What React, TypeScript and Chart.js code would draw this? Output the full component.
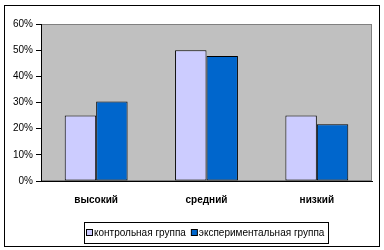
import React, { useEffect, useRef } from "react";
import { Chart, registerables } from "chart.js";

Chart.register(...registerables);

const categories = ["высокий", "средний", "низкий"];
const seriesNames = ["контрольная группа", "экспериментальная группа"];
const controlValues = [25, 50, 25];
const experimentalValues = [30.4, 47.8, 21.7];
const yTicks = [0, 10, 20, 30, 40, 50, 60];

const FONT = "Arial, 'Liberation Sans', sans-serif";

const framePlugin = {
  id: "framePlugin",
  beforeDraw(chart: any) {
    const { ctx, chartArea } = chart;
    ctx.save();
    ctx.fillStyle = "#ffffff";
    ctx.fillRect(0, 0, chart.width, chart.height);
    ctx.fillStyle = "#C0C0C0";
    ctx.fillRect(chartArea.left, chartArea.top, chartArea.right - chartArea.left, chartArea.bottom - chartArea.top);
    ctx.strokeStyle = "#808080";
    ctx.lineWidth = 1;
    ctx.strokeRect(
      Math.round(chartArea.left) + 0.5,
      Math.round(chartArea.top) + 0.5,
      Math.round(chartArea.right - chartArea.left) - 1,
      Math.round(chartArea.bottom - chartArea.top) - 1
    );
    ctx.restore();
  },
  afterDraw(chart: any) {
    const { ctx, chartArea } = chart;
    ctx.save();
    // outer frame
    ctx.strokeStyle = "#000000";
    ctx.lineWidth = 1;
    ctx.strokeRect(4.5, 5.5, 375, 241);

    // legend
    ctx.font = "10px " + FONT;
    ctx.textBaseline = "middle";
    const sq = 6;
    const items = chart.data.datasets.map((ds: any) => ({
      label: ds.label,
      color: ds.backgroundColor,
      w: ctx.measureText(ds.label).width,
    }));
    let total = 2;
    items.forEach((it: any, i: number) => {
      total += sq + 2 + it.w + (i < items.length - 1 ? 5 : 4);
    });
    const cx = (chartArea.left + chartArea.right) / 2;
    const boxLeft = Math.round(cx - total / 2);
    const boxTop = 222;
    const boxH = 21;
    ctx.strokeRect(boxLeft + 0.5, boxTop + 0.5, Math.round(total), boxH);
    let x = boxLeft + 2;
    const cy = boxTop + 10.5;
    items.forEach((it: any) => {
      ctx.fillStyle = it.color;
      ctx.fillRect(x + 0.5, cy - 3, sq, sq);
      ctx.strokeStyle = "#000000";
      ctx.strokeRect(x + 0.5, cy - 3, sq, sq);
      x += sq + 2;
      ctx.fillStyle = "#000000";
      ctx.textAlign = "left";
      ctx.fillText(it.label, x, cy + 0.5);
      x += it.w + 5;
    });
    ctx.restore();
  },
};

export default function App() {
  const ref = useRef<HTMLCanvasElement | null>(null);

  useEffect(() => {
    if (!ref.current) return;
    const chart = new Chart(ref.current, {
      type: "bar",
      data: {
        labels: categories,
        datasets: [
          {
            label: seriesNames[0],
            data: controlValues,
            backgroundColor: "#CCCCFF",
            borderColor: "#000000",
            borderWidth: 1,
            borderSkipped: false,
          },
          {
            label: seriesNames[1],
            data: experimentalValues,
            backgroundColor: "#0066CC",
            borderColor: "#000000",
            borderWidth: 1,
            borderSkipped: false,
          },
        ],
      },
      options: {
        responsive: false,
        animation: false,
        devicePixelRatio: 1,
        categoryPercentage: 0.57,
        barPercentage: 1,
        layout: { padding: { left: 0, top: 24, right: 12, bottom: 39 } },
        plugins: {
          legend: { display: false },
          tooltip: { enabled: false },
        },
        scales: {
          x: {
            grid: { display: false, drawTicks: false },
            border: { display: true, color: "#000000", width: 1 },
            ticks: {
              color: "#000000",
              font: { family: FONT, size: 10, weight: "bold" },
              padding: 13,
              maxRotation: 0,
            },
            afterFit: (scale: any) => {
              scale.height = 30;
            },
          },
          y: {
            min: 0,
            max: 60,
            afterBuildTicks: (scale: any) => {
              scale.ticks = yTicks.map((v) => ({ value: v }));
            },
            grid: {
              drawOnChartArea: false,
              drawTicks: true,
              tickLength: 5,
              color: "#000000",
            },
            border: { display: true, color: "#000000", width: 1 },
            ticks: {
              color: "#000000",
              font: { family: FONT, size: 10 },
              padding: 3,
              callback: (v: any) => v + "%",
            },
            afterFit: (scale: any) => {
              scale.width = 41;
            },
          },
        },
      } as any,
      plugins: [framePlugin],
    });
    return () => chart.destroy();
  }, []);

  return (
    <div style={{ position: "absolute", left: 0, top: 0, width: 384, height: 250 }}>
      <canvas ref={ref} width={384} height={250} style={{ width: 384, height: 250 }} />
    </div>
  );
}
